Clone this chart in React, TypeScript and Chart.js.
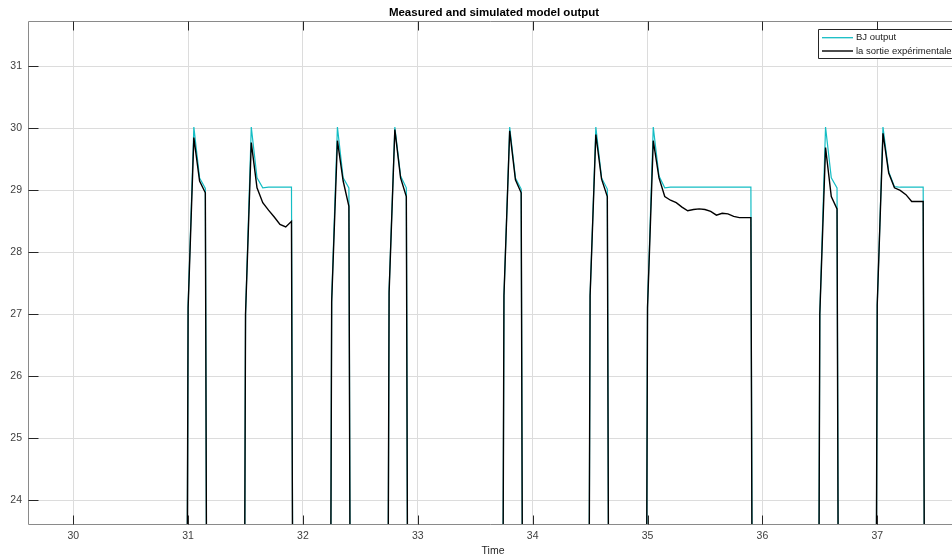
import React, { useEffect, useRef } from "react";
import { Chart, registerables } from "chart.js";
Chart.register(...registerables);

const time = [
  29.5,
  30.95, 31.0, 31.05, 31.1, 31.15, 31.2,
  31.45, 31.5, 31.55, 31.6, 31.65, 31.7, 31.75, 31.8, 31.85, 31.9, 31.95,
  32.2, 32.25, 32.3, 32.35, 32.4, 32.45,
  32.7, 32.75, 32.8, 32.85, 32.9, 32.95,
  33.7, 33.75, 33.8, 33.85, 33.9, 33.95,
  34.45, 34.5, 34.55, 34.6, 34.65, 34.7,
  34.95, 35.0, 35.05, 35.1, 35.15, 35.2, 35.25, 35.3, 35.35, 35.4, 35.45, 35.5, 35.55, 35.6, 35.65, 35.7, 35.75, 35.8, 35.85, 35.9, 35.95,
  36.45, 36.5, 36.55, 36.6, 36.65, 36.7,
  36.95, 37.0, 37.05, 37.1, 37.15, 37.2, 37.25, 37.3, 37.35, 37.4, 37.45,
  37.8,
];

const bjOutput = [
  0,
  0, 27.15, 30.02, 29.2, 29.03, 0,
  0, 27.0, 30.02, 29.2, 29.04, 29.05, 29.05, 29.05, 29.05, 29.05, 0,
  0, 27.25, 30.02, 29.2, 29.04, 0,
  0, 27.4, 30.02, 29.23, 29.04, 0,
  0, 27.3, 30.02, 29.2, 29.02, 0,
  0, 27.3, 30.02, 29.2, 29.02, 0,
  0, 27.15, 30.02, 29.23, 29.04, 29.05, 29.05, 29.05, 29.05, 29.05, 29.05, 29.05, 29.05, 29.05, 29.05, 29.05, 29.05, 29.05, 29.05, 29.05, 0,
  0, 27.0, 30.02, 29.2, 29.04, 0,
  0, 27.15, 30.02, 29.3, 29.06, 29.05, 29.05, 29.05, 29.05, 29.05, 0,
  0,
];

const measured = [
  0,
  0, 27.1, 29.85, 29.15, 28.96, 0,
  0, 27.0, 29.77, 29.04, 28.8, 28.68, 28.57, 28.45, 28.41, 28.5, 0,
  0, 27.2, 29.8, 29.15, 28.74, 0,
  0, 27.35, 29.98, 29.2, 28.9, 0,
  0, 27.3, 29.96, 29.17, 28.96, 0,
  0, 27.3, 29.9, 29.18, 28.9, 0,
  0, 27.1, 29.8, 29.2, 28.9, 28.84, 28.8, 28.73, 28.67, 28.69, 28.7, 28.69, 28.66, 28.6, 28.63, 28.62, 28.58, 28.56, 28.56, 28.56, 0,
  0, 27.0, 29.69, 28.9, 28.7, 0,
  0, 27.15, 29.92, 29.28, 29.04, 29.0, 28.93, 28.82, 28.82, 28.82, 0,
  0,
];

const xTicks = [30, 31, 32, 33, 34, 35, 36, 37];
const yTicks = [24, 25, 26, 27, 28, 29, 30, 31];
const xLimits = [29.606, 37.651];
const yLimits = [23.602, 31.731];
const seriesLabels = ["BJ output", "la sortie expérimentale"];
const titleText = "Measured and simulated model output";
const xAxisTitle = "Time";

const CYAN = "#14BDC4";
const BLACK = "#000000";
const FONT = '"Liberation Sans", Arial, Helvetica, sans-serif';

const framePlugin = {
  id: "matlabFrame",
  afterDraw(chart: any) {
    const ctx = chart.ctx;
    const { left, right, top, bottom } = chart.chartArea;
    const xs = chart.scales.x;
    const ys = chart.scales.y;
    ctx.save();
    ctx.strokeStyle = "#8a8a8a";
    ctx.lineWidth = 1;
    const L = Math.round(left) + 0.5;
    const T = Math.round(top) + 0.5;
    const B = Math.round(bottom) - 0.5;
    ctx.beginPath();
    ctx.moveTo(L, T);
    ctx.lineTo(right + 2, T);
    ctx.moveTo(L, T);
    ctx.lineTo(L, B);
    ctx.lineTo(right + 2, B);
    ctx.stroke();
    ctx.strokeStyle = "#262626";
    ctx.beginPath();
    xTicks.forEach((v) => {
      const px = Math.round(xs.getPixelForValue(v)) + 0.5;
      ctx.moveTo(px, B);
      ctx.lineTo(px, B - 9);
      ctx.moveTo(px, T);
      ctx.lineTo(px, T + 9);
    });
    yTicks.forEach((v) => {
      const py = Math.round(ys.getPixelForValue(v)) + 0.5;
      ctx.moveTo(L, py);
      ctx.lineTo(L + 10, py);
    });
    ctx.stroke();

    ctx.fillStyle = "#000";
    ctx.font = `bold 11.5px ${FONT}`;
    ctx.textAlign = "center";
    ctx.textBaseline = "middle";
    ctx.fillText(titleText, 494, 13);

    ctx.fillStyle = "#262626";
    ctx.font = `10.5px ${FONT}`;
    ctx.fillText(xAxisTitle, 493, 551);

    const bx = 818.5;
    const by = 29.5;
    const bh = 29;
    ctx.fillStyle = "#fff";
    ctx.fillRect(bx, by, 200, bh);
    ctx.strokeStyle = "#262626";
    ctx.lineWidth = 1;
    ctx.beginPath();
    ctx.moveTo(bx + 200, by);
    ctx.lineTo(bx, by);
    ctx.lineTo(bx, by + bh);
    ctx.lineTo(bx + 200, by + bh);
    ctx.stroke();
    const rows = [
      { label: seriesLabels[0], color: CYAN, w: 1.3, y: 37.7 },
      { label: seriesLabels[1], color: BLACK, w: 1.4, y: 51 },
    ];
    ctx.font = `9.5px ${FONT}`;
    ctx.textAlign = "left";
    rows.forEach((r) => {
      ctx.strokeStyle = r.color;
      ctx.lineWidth = r.w;
      ctx.beginPath();
      ctx.moveTo(822, r.y);
      ctx.lineTo(853, r.y);
      ctx.stroke();
      ctx.fillStyle = "#1a1a1a";
      ctx.fillText(r.label, 856, r.y);
    });
    ctx.restore();
  },
};

export default function App() {
  const ref = useRef<HTMLCanvasElement>(null);
  useEffect(() => {
    if (!ref.current) return;
    const chart = new Chart(ref.current, {
      type: "line",
      data: {
        datasets: [
          {
            label: seriesLabels[0],
            data: time.map((t, i) => ({ x: t, y: bjOutput[i] })),
            borderColor: CYAN,
            backgroundColor: CYAN,
            borderWidth: 1.2,
            pointRadius: 0,
            tension: 0,
            order: 1,
          },
          {
            label: seriesLabels[1],
            data: time.map((t, i) => ({ x: t, y: measured[i] })),
            borderColor: BLACK,
            backgroundColor: BLACK,
            borderWidth: 1.4,
            pointRadius: 0,
            tension: 0,
            order: 0,
          },
        ],
      },
      options: {
        animation: false,
        responsive: false,
        layout: { padding: { left: 0, right: 0, top: 21, bottom: 0 } },
        plugins: {
          legend: { display: false },
          title: { display: false },
          tooltip: { enabled: false },
        },
        scales: {
          x: {
            type: "linear",
            min: xLimits[0],
            max: xLimits[1],
            afterBuildTicks: (s: any) => {
              s.ticks = xTicks.map((v) => ({ value: v }));
            },
            afterFit: (s: any) => {
              s.height = 33;
            },
            grid: { color: "#dcdcdc", lineWidth: 1, drawTicks: false },
            border: { display: false },
            ticks: {
              padding: 5,
              color: "#404040",
              font: { size: 10.5, family: FONT },
              maxRotation: 0,
              autoSkip: false,
            },
          },
          y: {
            type: "linear",
            min: yLimits[0],
            max: yLimits[1],
            afterBuildTicks: (s: any) => {
              s.ticks = yTicks.map((v) => ({ value: v }));
            },
            afterFit: (s: any) => {
              s.width = 28;
            },
            grid: { color: "#dcdcdc", lineWidth: 1, drawTicks: false },
            border: { display: false },
            ticks: {
              padding: 6,
              color: "#404040",
              font: { size: 10.5, family: FONT },
              autoSkip: false,
            },
          },
        },
      },
      plugins: [framePlugin],
    });
    return () => chart.destroy();
  }, []);
  return (
    <div style={{ position: "fixed", left: 0, top: 0, width: 952, height: 558, background: "#fff" }}>
      <canvas ref={ref} width={952} height={558} style={{ display: "block" }} />
    </div>
  );
}
